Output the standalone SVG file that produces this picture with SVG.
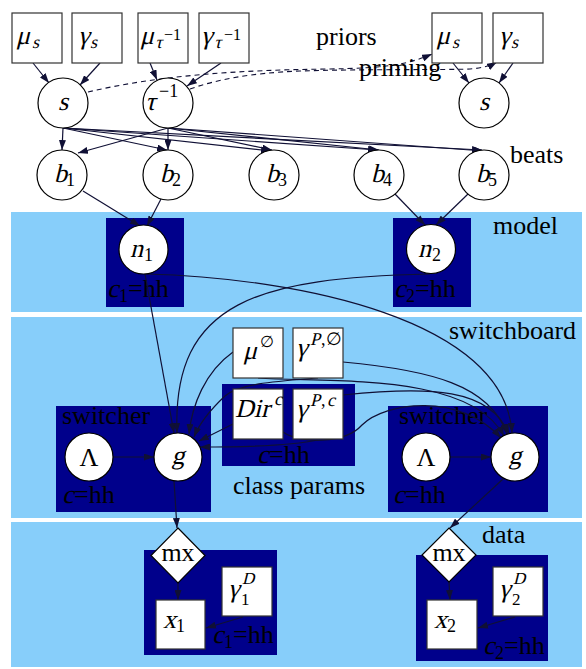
<svg xmlns="http://www.w3.org/2000/svg" width="586" height="669" viewBox="0 0 586 669">
<style>
.t{font-family:"Liberation Serif","Times New Roman",serif;font-size:26px;fill:#000}
.s{font-size:18px}
.ss{font-size:16px}
.band{fill:#87cefa}
.cl{fill:#00008b}
.nd{fill:#fff;stroke:#000;stroke-width:1.2}
.bx{fill:#fff;stroke:#333;stroke-width:1.2}
.e{fill:none;stroke:#101035;stroke-width:1.2;marker-end:url(#ah)}
.d{fill:none;stroke:#101035;stroke-width:1.1;stroke-dasharray:5,4;marker-end:url(#ah)}
.m{text-anchor:middle}
</style>
<defs>
<marker id="ah" viewBox="0 0 10 7" refX="10" refY="3.5" markerWidth="10" markerHeight="7" markerUnits="userSpaceOnUse" orient="auto"><path d="M0,0 L10,3.5 L0,7z" fill="#101035"/></marker>
</defs>
<rect width="586" height="669" fill="#fff"/>
<g id="bands">
<rect class="band" x="11" y="212" width="571" height="100"/>
<rect class="band" x="11" y="317" width="571" height="201"/>
<rect class="band" x="11" y="522" width="571" height="145"/>
<text class="t" x="316" y="45">priors</text>
<text class="t" x="510" y="163">beats</text>
<text class="t" x="493" y="234">model</text>
<text class="t" x="449" y="339">switchboard</text>
<text class="t" x="482" y="543">data</text>
</g>
<g id="clusters">
<rect class="cl" x="106" y="218" width="78" height="89"/>
<rect class="cl" x="393" y="218" width="78" height="89"/>
<rect class="cl" x="222" y="384" width="133" height="82"/>
<rect class="cl" x="56" y="406" width="155" height="106"/>
<rect class="cl" x="388" y="406" width="160" height="106"/>
<rect class="cl" x="144" y="550" width="133" height="105"/>
<rect class="cl" x="416" y="555" width="132" height="106"/>
<g id="lbl_c1_model"><text class="t" transform="translate(107 297) skewX(-14)">c</text><text class="t s" x="119" y="302">1</text><text class="t" x="128" y="297">=hh</text></g>
<g id="lbl_c2_model"><text class="t" transform="translate(394 297) skewX(-14)">c</text><text class="t s" x="406" y="302">2</text><text class="t" x="415" y="297">=hh</text></g>
<g id="lbl_class"><text class="t" transform="translate(257 463) skewX(-14)">c</text><text class="t" x="269" y="463">=hh</text>
<text class="t" x="233" y="494">class params</text></g>
<g id="lbl_sw1"><text class="t" x="62" y="424">switcher</text><text class="t" transform="translate(62 503) skewX(-14)">c</text><text class="t" x="74" y="503">=hh</text></g>
<g id="lbl_sw2"><text class="t" x="399" y="424">switcher</text><text class="t" transform="translate(393 503) skewX(-14)">c</text><text class="t" x="405" y="503">=hh</text></g>
<g id="lbl_c1_data"><text class="t" transform="translate(212 643) skewX(-14)">c</text><text class="t s" x="224" y="648">1</text><text class="t" x="233" y="643">=hh</text></g>
<g id="lbl_c2_data"><text class="t" transform="translate(483 654) skewX(-14)">c</text><text class="t s" x="495" y="659">2</text><text class="t" x="504" y="654">=hh</text></g>
</g>
<g id="connectors">
<path class="e" d="M33,63 L49,83"/>
<path class="e" d="M100,63 L80,85"/>
<path class="e" d="M150,63 L157,80"/>
<path class="e" d="M221,63 L187,86"/>
<path class="e" d="M453,63 L469,83"/>
<path class="e" d="M513,63 L499,83"/>
<path class="d" d="M88,92 C160,75 240,70 330,69 C380,68 405,66 432,54"/>
<path class="d" d="M190,89 C215,80 250,73 300,71 C360,69 450,70 470,69 C482,68 490,66 497,62"/>
<path class="e" d="M63,128 L62,150"/>
<path class="e" d="M63,128 L167,150"/>
<path class="e" d="M63,128 L271,151"/>
<path class="e" d="M63,128 L378,150"/>
<path class="e" d="M63,128 L482,150"/>
<path class="e" d="M168,128 L78,153"/>
<path class="e" d="M168,128 L168,150"/>
<path class="e" d="M168,128 L272,150"/>
<path class="e" d="M168,128 L379,150"/>
<path class="e" d="M168,128 L484,151"/>
<path class="e" d="M83,191 L140,226"/>
<path class="e" d="M161,199 L147,226"/>
<path class="e" d="M395,194 L425,225"/>
<path class="e" d="M468,194 L436,225"/>
<path class="e" d="M145,274 L174,433"/>
<path class="e" d="M430,274 C260,278 172,300 177,433"/>
<path class="e" d="M146,274 C300,278 505,320 512,433"/>
<path class="e" d="M233,352 C205,372 192,405 189,434"/>
<path class="e" d="M318,378 C280,381 240,383 225,396 C210,410 200,422 194,437"/>
<path class="e" d="M233,424 L199,441"/>
<path class="e" d="M318,440 C290,446 250,447 200,447"/>
<path class="e" d="M343,362 C430,370 490,385 507,434"/>
<path class="e" d="M258,378 C330,383 470,372 504,436"/>
<path class="e" d="M343,395 C430,386 490,388 509,434"/>
<path class="e" d="M283,432 C300,444 345,444 362,425 C385,402 460,392 501,438"/>
<path class="e" d="M113,457 L154,457"/>
<path class="e" d="M450,457 L491,457"/>
<path class="e" d="M174,481 L177,528"/>
<path class="e" d="M503,479 L450,528"/>
<path class="e" d="M178,583 L178,600"/>
<path class="e" d="M449,582 L450,600"/>
<path class="e" d="M243,617 L206,628"/>
<path class="e" d="M515,617 L478,628"/>
</g>
<g id="mu_s"><rect class="bx" x="12" y="13" width="50" height="50"/><text class="t" transform="translate(16 44) skewX(-14)">μ</text><text class="t s" transform="translate(32 48) skewX(-14)">s</text></g>
<g id="gamma_s"><rect class="bx" x="72" y="13" width="50" height="50"/><text class="t" transform="translate(78 44) skewX(-14)">γ</text><text class="t s" transform="translate(90 48) skewX(-14)">s</text></g>
<g id="mu_tau"><rect class="bx" x="138" y="13" width="50" height="50"/><text class="t" transform="translate(140 44) skewX(-14)">μ</text><text class="t s" transform="translate(155 48) skewX(-14)">τ</text><text class="t ss" x="164" y="40">−1</text></g>
<g id="gamma_tau"><rect class="bx" x="199" y="13" width="50" height="50"/><text class="t" transform="translate(201 44) skewX(-14)">γ</text><text class="t s" transform="translate(214 48) skewX(-14)">τ</text><text class="t ss" x="224" y="40">−1</text></g>
<g id="mu_s2"><rect class="bx" x="432" y="13" width="50" height="50"/><text class="t" transform="translate(436 44) skewX(-14)">μ</text><text class="t s" transform="translate(452 48) skewX(-14)">s</text></g>
<g id="gamma_s2"><rect class="bx" x="493" y="13" width="50" height="50"/><text class="t" transform="translate(499 44) skewX(-14)">γ</text><text class="t s" transform="translate(511 48) skewX(-14)">s</text></g>
<g id="s1"><circle class="nd" cx="63" cy="103" r="25"/><text class="t m" transform="translate(63 110) skewX(-14)">s</text></g>
<g id="tau"><circle class="nd" cx="168" cy="103" r="25"/><text class="t" transform="translate(145 110) skewX(-14)">τ</text><text class="t s" x="159" y="97">−1</text></g>
<g id="s2"><circle class="nd" cx="484" cy="103" r="25"/><text class="t m" transform="translate(484 110) skewX(-14)">s</text></g>
<text class="t" x="359" y="76">priming</text>
<g id="b1"><circle class="nd" cx="62" cy="175" r="25"/><text class="t" transform="translate(54 182) skewX(-14)">b</text><text class="t s" x="66" y="186">1</text></g>
<g id="b2"><circle class="nd" cx="168" cy="175" r="25"/><text class="t" transform="translate(160 182) skewX(-14)">b</text><text class="t s" x="172" y="186">2</text></g>
<g id="b3"><circle class="nd" cx="274" cy="175" r="25"/><text class="t" transform="translate(266 182) skewX(-14)">b</text><text class="t s" x="278" y="186">3</text></g>
<g id="b4"><circle class="nd" cx="379" cy="175" r="25"/><text class="t" transform="translate(371 182) skewX(-14)">b</text><text class="t s" x="383" y="186">4</text></g>
<g id="b5"><circle class="nd" cx="484" cy="175" r="25"/><text class="t" transform="translate(476 182) skewX(-14)">b</text><text class="t s" x="488" y="186">5</text></g>
<g id="n1"><ellipse class="nd" cx="143.5" cy="249.5" rx="24.5" ry="24.5"/><text class="t" transform="translate(130 257) skewX(-14)">n</text><text class="t s" x="144" y="261">1</text></g>
<g id="n2"><ellipse class="nd" cx="431" cy="249" rx="24.5" ry="24.5"/><text class="t" transform="translate(418 257) skewX(-14)">n</text><text class="t s" x="432" y="261">2</text></g>
<g id="mu0"><rect class="bx" x="233" y="328" width="50" height="50"/><text class="t" transform="translate(243 359) skewX(-14)">μ</text><text class="t ss" x="260" y="347">∅</text></g>
<g id="gammaP0"><rect class="bx" x="293" y="328" width="50" height="50"/><text class="t" transform="translate(296 356) skewX(-14)">γ</text><text class="t s" transform="translate(310 345) skewX(-14)">P</text><text class="t s" x="321" y="345">,∅</text></g>
<g id="dirc"><rect class="bx" x="233" y="389" width="50" height="50"/><text class="t" transform="translate(235 417) skewX(-14)">Dir</text><text class="t s" transform="translate(274 405) skewX(-14)">c</text></g>
<g id="gammaPc"><rect class="bx" x="293" y="389" width="50" height="50"/><text class="t" transform="translate(296 417) skewX(-14)">γ</text><text class="t s" transform="translate(310 406) skewX(-14)">P</text><text class="t s" x="321" y="406">,</text><text class="t s" transform="translate(327 406) skewX(-14)">c</text></g>
<g id="lambda1"><circle class="nd" cx="89" cy="457" r="24"/><text class="t m" x="89" y="466">Λ</text></g>
<g id="g1"><circle class="nd" cx="178" cy="457" r="24"/><text class="t m" transform="translate(178 464) skewX(-14)">g</text></g>
<g id="lambda2"><circle class="nd" cx="426" cy="457" r="24"/><text class="t m" x="426" y="466">Λ</text></g>
<g id="g2"><circle class="nd" cx="515" cy="457" r="24"/><text class="t m" transform="translate(515 464) skewX(-14)">g</text></g>
<g id="mx1"><polygon class="nd" points="178,528 205,555.5 178,583 151,555.5"/><text class="t m" x="178" y="561">mx</text></g>
<g id="mx2"><polygon class="nd" points="449,528 476,555 449,582 422,555"/><text class="t m" x="449" y="561">mx</text></g>
<g id="x1"><rect class="bx" x="156" y="600" width="49" height="49"/><text class="t" transform="translate(163 628) skewX(-14)">x</text><text class="t s" x="176" y="632">1</text></g>
<g id="x2"><rect class="bx" x="427" y="600" width="50" height="49"/><text class="t" transform="translate(434 628) skewX(-14)">x</text><text class="t s" x="447" y="632">2</text></g>
<g id="gD1"><rect class="bx" x="222" y="567" width="50" height="49"/><text class="t" transform="translate(228 597) skewX(-14)">γ</text><text class="t" style="font-size:17px" transform="translate(242 584) skewX(-14)">D</text><text class="t" style="font-size:17px" x="241" y="605">1</text></g>
<g id="gD2"><rect class="bx" x="493" y="567" width="50" height="49"/><text class="t" transform="translate(499 597) skewX(-14)">γ</text><text class="t" style="font-size:17px" transform="translate(513 584) skewX(-14)">D</text><text class="t" style="font-size:17px" x="512" y="605">2</text></g>
</svg>
